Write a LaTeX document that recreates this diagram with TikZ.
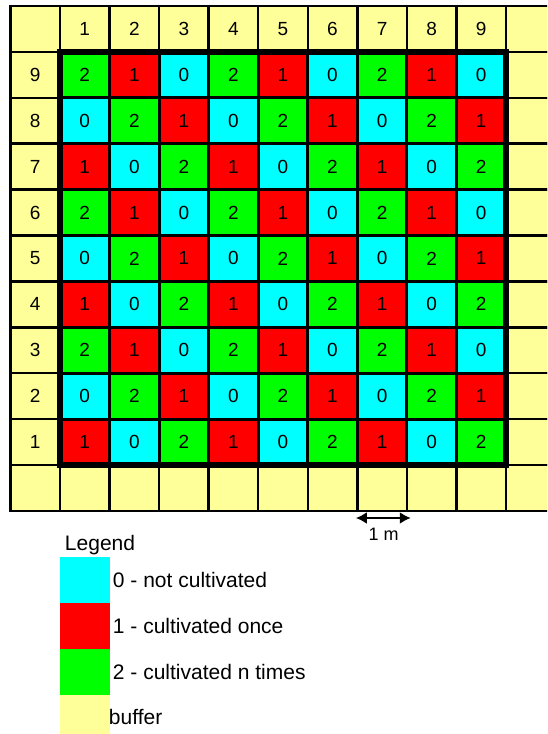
\documentclass[tikz,border=0pt]{standalone}
\usepackage{fontspec}
\setmainfont{Liberation Sans}
\usetikzlibrary{positioning,arrows.meta}
\definecolor{notcult}{RGB}{0,255,255}
\definecolor{once}{RGB}{255,0,0}
\definecolor{ntimes}{RGB}{0,255,0}
\definecolor{buffer}{RGB}{255,255,153}

\begin{document}
\begin{tikzpicture}[
  x=49.55pt, y=45.9pt,
  cell/.style={draw,line width=3pt,outer sep=0pt,inner sep=0pt,minimum width=49.55pt,minimum height=45.9pt,font=\fontsize{19}{19}\selectfont},
  buf/.style={cell,fill=buffer,line width=2.5pt},
  v0/.style={cell,fill=notcult},
  v1/.style={cell,fill=once},
  v2/.style={cell,fill=ntimes},
  swatch/.style={outer sep=0pt,inner sep=0pt,minimum width=50pt,minimum height=45.9pt},
  legtext/.style={font=\fontsize{21}{21}\selectfont,inner sep=3pt}
]
  \useasboundingbox (-0.7109,-5.3606) rectangle (10.3285,10.6307);
  \clip (-0.7109,-5.3606) rectangle (10.3285,10.6307);
  % buffer strip round the plots
  \node[buf] (h0) at (0,10) {};
  \foreach \c in {1,...,9} \node[buf] (h\c) at (\c,10) {\c};
  \node[buf] (h10) at (10,10) {};
  \foreach \r in {1,...,9} {
    \node[buf] (l\r) at (0,\r) {\r};
    \node[buf] (rt\r) at (10,\r) {};
  }
  \foreach \c in {0,...,10} \node[buf] (bt\c) at (\c,0) {};
  % plots
  \foreach \r in {1,...,9}
    \foreach \c in {1,...,9} {
      \pgfmathtruncatemacro{\v}{mod(18-\r-\c,3)}
      \node[v\v] (p-\r-\c) at (\c,\r) {\v};
    }
  \draw[line width=6pt] (p-1-1.south west) rectangle (p-9-9.north east);
  % scale
  \coordinate (sl) at (6.47,-0.655);
  \coordinate (sr) at (7.58,-0.655);
  \draw[line width=2.5pt,{Latex[length=11pt,width=12pt]}-{Latex[length=11pt,width=12pt]}] (sl) -- (sr);
  \node[font=\fontsize{18}{18}\selectfont] (scl) at (7.03,-1.0) {1 m};
  % legend
  \node[swatch,fill=notcult] (s0) at (1,-2) {};
  \node[swatch,fill=once] (s1) at (1,-3) {};
  \node[swatch,fill=ntimes] (s2) at (1,-4) {};
  \node[swatch,fill=buffer] (s3) at (1,-5) {};
  \node[legtext,inner sep=0pt,anchor=base west] (leg) at ([xshift=5pt,yshift=6pt]s0.north west) {Legend};
  \node[legtext,right=0pt of s0] (t0) {0 - not cultivated};
  \node[legtext,right=0pt of s1] (t1) {1 - cultivated once};
  \node[legtext,right=0pt of s2] (t2) {2 - cultivated n times};
  \node[legtext,right=-4pt of s3] (t3) {buffer};
\end{tikzpicture}
\end{document}
